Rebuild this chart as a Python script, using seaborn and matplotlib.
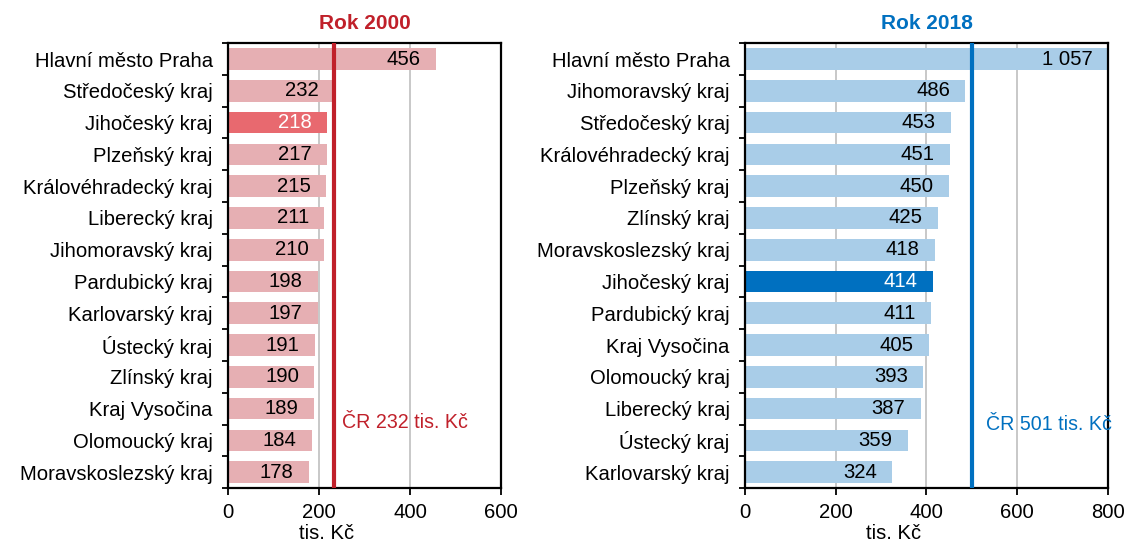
import numpy as np
import pandas as pd
import matplotlib
matplotlib.use("Agg")
import matplotlib.pyplot as plt
import seaborn as sns

regions_2000 = ["Hlavní město Praha", "Středočeský kraj", "Jihočeský kraj", "Plzeňský kraj",
                "Královéhradecký kraj", "Liberecký kraj", "Jihomoravský kraj", "Pardubický kraj",
                "Karlovarský kraj", "Ústecký kraj", "Zlínský kraj", "Kraj Vysočina",
                "Olomoucký kraj", "Moravskoslezský kraj"]
values_2000 = [456, 232, 218, 217, 215, 211, 210, 198, 197, 191, 190, 189, 184, 178]
labels_2000 = ["456", "232", "218", "217", "215", "211", "210", "198", "197", "191", "190", "189", "184", "178"]

regions_2018 = ["Hlavní město Praha", "Jihomoravský kraj", "Středočeský kraj", "Královéhradecký kraj",
                "Plzeňský kraj", "Zlínský kraj", "Moravskoslezský kraj", "Jihočeský kraj",
                "Pardubický kraj", "Kraj Vysočina", "Olomoucký kraj", "Liberecký kraj",
                "Ústecký kraj", "Karlovarský kraj"]
values_2018 = [1057, 486, 453, 451, 450, 425, 418, 414, 411, 405, 393, 387, 359, 324]
labels_2018 = ["1 057", "486", "453", "451", "450", "425", "418", "414", "411", "405", "393", "387", "359", "324"]

highlight = "Jihočeský kraj"
cr_2000 = 232
cr_2018 = 501
xticks_2000 = [0, 200, 400, 600]
xticks_2018 = [0, 200, 400, 600, 800]

sns.set_theme(style="white")
plt.rcParams['font.family'] = ['Liberation Sans', 'DejaVu Sans']
plt.rcParams['text.color'] = 'black'
plt.rcParams['axes.labelcolor'] = 'black'
plt.rcParams['xtick.color'] = 'black'
plt.rcParams['ytick.color'] = 'black'
FS = 14.6

fig = plt.figure(figsize=(11.26, 5.46), dpi=100)
axL = fig.add_axes([0.2025, 0.106, 0.2425, 0.815])
axR = fig.add_axes([0.6616, 0.106, 0.3224, 0.815])

def panel(ax, regions, values, labels, base, hi, line_col, cr, xticks, title, xlab_x, cr_text_x, cr_text_y):
    df = pd.DataFrame({"region": regions, "value": values})
    pal = {r: (hi if r == highlight else base) for r in regions}
    sns.barplot(data=df, x="value", y="region", hue="region", palette=pal, legend=False,
                ax=ax, width=0.68, saturation=1, zorder=2, edgecolor="none")
    ax.set_xlim(xticks[0], xticks[-1])
    ax.set_ylim(len(regions) - 0.5, -0.5)
    ax.set_xticks(xticks)
    ax.set_xticklabels([str(t) for t in xticks], fontsize=FS, color='black')
    ax.set_yticks(range(len(regions)))
    ax.set_yticklabels(regions, fontsize=FS, color='black')
    ax.set_yticks(np.arange(-0.5, len(regions), 1), minor=True)
    ax.tick_params(axis='y', which='major', length=0, pad=11)
    ax.tick_params(axis='y', which='minor', length=4, width=1.3, color='black', direction='out', left=True)
    ax.tick_params(axis='x', which='major', length=5, width=1.3, color='black', direction='out', bottom=True, pad=6)
    for t in xticks[1:-1]:
        ax.axvline(t, color='#c4c4c4', lw=1.3, zorder=1)
    for s in ax.spines.values():
        s.set_color('black')
        s.set_linewidth(1.6)
    ax.set_ylabel("")
    ax.set_xlabel("tis. Kč", fontsize=FS, color='black')
    ax.xaxis.set_label_coords(xlab_x, -0.081)
    ax.axvline(cr, color=line_col, lw=3, zorder=4)
    ax.text(cr_text_x, cr_text_y, f"ČR {cr} tis. Kč", color=line_col, fontsize=FS - 0.5,
            ha='left', va='center', zorder=5)
    for i, (v, lab, r) in enumerate(zip(values, labels, regions)):
        col = 'white' if r == highlight else 'black'
        ax.annotate(lab, (min(v, xticks[-1]), i), xytext=(-11, 0), textcoords='offset points',
                    ha='right', va='center', color=col, fontsize=FS, zorder=6)
    ax.set_title(title, color=line_col, fontsize=FS + 0.4, fontweight='bold', pad=10)

panel(axL, regions_2000, values_2000, labels_2000, '#E6AFB3', '#E8696F', '#C0202A', cr_2000,
      xticks_2000, "Rok 2000", 0.36, cr_2000 + 18, 11.45)
panel(axR, regions_2018, values_2018, labels_2018, '#A9CDE8', '#0070C0', '#0070C0', cr_2018,
      xticks_2018, "Rok 2018", 0.41, cr_2018 + 30, 11.5)

fig.savefig("out.png", dpi=100)
